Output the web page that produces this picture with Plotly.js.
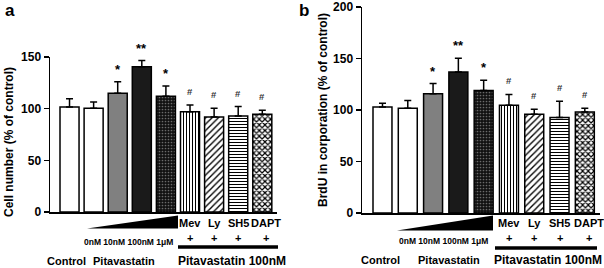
<!DOCTYPE html>
<html>
<head>
<meta charset="utf-8">
<script src="https://cdn.plot.ly/plotly-3.0.1.min.js"></script>
<style>html,body{margin:0;padding:0;background:#fff;}#chart{width:604px;height:268px;}</style>
</head>
<body>
<div id="chart"></div>
<script>
// ---- data ----
const categories = ['Control', 'Pitavastatin 0nM', 'Pitavastatin 10nM', 'Pitavastatin 100nM', 'Pitavastatin 1μM',
  'Pitavastatin 100nM + Mev', 'Pitavastatin 100nM + Ly', 'Pitavastatin 100nM + SH5', 'Pitavastatin 100nM + DAPT'];
const cellMean = [101.5, 100.5, 115, 140.5, 112, 97, 92, 93, 94.5];
const cellErr  = [8, 6, 11, 6, 10, 6.5, 8.5, 9, 4];
const brduMean = [103, 101.6, 115.7, 136.8, 119, 104.5, 95.9, 92.6, 98];
const brduErr  = [3.5, 7.7, 10, 13.5, 10, 10.6, 4.8, 16, 3.6];
const sigCell = ['', '', '*', '**', '*', '#', '#', '#', '#'];
const sigBrdu = ['', '', '*', '**', '*', '#', '#', '#', '#'];
const inhibitorLabels = ['Mev', 'Ly', 'SH5', 'DAPT'];
const doseLabels = ['0nM', '10nM', '100nM', '1μM'];
const groupLabels = ['Control', 'Pitavastatin', 'Pitavastatin 100nM'];
const yTicksA = [0, 50, 100, 150];
const yTicksB = [0, 50, 100, 150, 200];

// ---- styling ----
const W = 604, H = 268;
const px = x => x / W;
const py = y => 1 - y / H;
const FONT = 'Liberation Sans, Arial, sans-serif';
const patShapes = ['', '', '.', '.', '.', '|', '/', '-', 'x'];
const bgCols = ['#ffffff', '#ffffff', '#808080', '#1a1a1a', '#111111', '#ffffff', '#ffffff', '#ffffff', '#ffffff'];
const fgCols = ['#000000', '#000000', '#808080', '#1a1a1a', '#6a6a6a', '#000000', '#000000', '#000000', '#000000'];
const patSize = [6, 6, 4, 4, 3, 3, 4.5, 3, 4];
const patSolid = [0.3, 0.3, 0.5, 0.5, 0.25, 0.35, 0.3, 0.35, 0.5];

function barTrace(vals, errs, xa, ya, w) {
  return {
    type: 'bar', x: categories, y: vals, xaxis: xa, yaxis: ya, width: w,
    marker: {
      color: '#ffffff',
      line: {color: '#000', width: 1.5},
      pattern: {shape: patShapes, fgcolor: fgCols, bgcolor: bgCols, size: patSize, solidity: patSolid, fillmode: 'replace'}
    },
    error_y: {type: 'data', array: errs, arrayminus: errs.map(() => 0), symmetric: false,
              color: '#000', thickness: 1.5, width: 3.5},
    showlegend: false, hoverinfo: 'skip'
  };
}

const data = [barTrace(cellMean, cellErr, 'x', 'y', 0.79), barTrace(brduMean, brduErr, 'x2', 'y2', 0.75)];

const yCommon = {showline: true, linecolor: '#000', linewidth: 1.5, ticks: 'outside', ticklen: 5, tickwidth: 1.5,
  tickcolor: '#000', showgrid: false, zeroline: false, fixedrange: true,
  tickfont: {family: FONT, size: 12, color: '#000', weight: 'bold'}};
const xCommon = {showline: true, linecolor: '#000', linewidth: 1.5, ticks: '', showticklabels: false, showgrid: false,
  zeroline: false, type: 'category', fixedrange: true};

const annotations = [];
const shapes = [];
function txt(o) {
  annotations.push(Object.assign({showarrow: false, font: {family: FONT, size: 12, color: '#000', weight: 'bold'}}, o));
}

// panel letters
txt({text: 'a', xref: 'paper', yref: 'paper', x: px(3), y: py(10), xanchor: 'left', yanchor: 'middle', font: {family: FONT, size: 17, color: '#000', weight: 'bold'}});
txt({text: 'b', xref: 'paper', yref: 'paper', x: px(297), y: py(10), xanchor: 'left', yanchor: 'middle', font: {family: FONT, size: 17, color: '#000', weight: 'bold'}});
// y titles
txt({text: 'Cell number (% of control)', xref: 'paper', yref: 'paper', x: px(9), y: py(142), textangle: -90, xanchor: 'center', yanchor: 'middle'});
txt({text: 'BrdU in corporation (% of control)', xref: 'paper', yref: 'paper', x: px(323), y: py(110), textangle: -90, xanchor: 'center', yanchor: 'middle'});

// significance marks
function sig(marks, vals, errs, xa, ya) {
  marks.forEach((m, i) => {
    if (!m) return;
    const star = m.indexOf('*') >= 0;
    txt({text: m, xref: xa, yref: ya, x: categories[i], y: vals[i] + errs[i], xanchor: 'center', yanchor: 'bottom',
      yshift: star ? 3 : 6,
      font: {family: FONT, size: star ? 13 : 9.5, color: star ? '#000000' : '#333333', weight: 'bold'}});
  });
}
sig(sigCell, cellMean, cellErr, 'x', 'y');
sig(sigBrdu, brduMean, brduErr, 'x2', 'y2');

// under-axis decorations per panel
function decor(xa, p) {
  inhibitorLabels.forEach((lab, k) => {
    const i = 5 + k;
    txt({text: lab, xref: xa, yref: 'paper', x: categories[i], y: py(p.labY), xanchor: 'center', yanchor: 'middle',
      xshift: k === 3 ? 4 : 0, font: {family: FONT, size: 11, color: '#000', weight: 'bold'}});
    txt({text: '+', xref: xa, yref: 'paper', x: categories[i], y: py(p.plusY), xanchor: 'center', yanchor: 'middle',
      xshift: k === 3 ? 4 : 0, font: {family: FONT, size: 11, color: '#000', weight: 'bold'}});
  });
  txt({text: doseLabels.join(' '), xref: 'paper', yref: 'paper', x: px(p.doseX), y: py(p.doseY), xanchor: 'center', yanchor: 'middle',
    font: {family: FONT, size: 8.5, color: '#000', weight: 'bold'}});
  p.groupX.forEach((gx, g) => {
    txt({text: groupLabels[g], xref: 'paper', yref: 'paper', x: px(gx), y: py(p.groupY), xanchor: 'center', yanchor: 'middle',
      font: {family: FONT, size: g === 2 ? 12 : 11, color: '#000', weight: 'bold'}});
  });
  shapes.push({type: 'path', xref: 'paper', yref: 'paper', fillcolor: '#000', line: {width: 0},
    path: `M ${px(p.tri[0])} ${py(p.tri[2])} L ${px(p.tri[1])} ${py(p.tri[2])} L ${px(p.tri[1])} ${py(p.tri[3])} Z`});
  shapes.push({type: 'line', xref: 'paper', yref: 'paper', x0: px(p.bar[0]), x1: px(p.bar[1]), y0: py(p.bar[2]), y1: py(p.bar[2]),
    line: {color: '#000', width: 3.5}});
}
decor('x', {labY: 223, plusY: 238, doseX: 128, doseY: 242, groupX: [66, 124, 232], groupY: 261,
  tri: [87, 178, 228.5, 215.5], bar: [178, 278, 247]});
decor('x2', {labY: 223, plusY: 238, doseX: 443, doseY: 241, groupX: [380, 449, 548], groupY: 260,
  tri: [397, 493, 230.5, 215.5], bar: [495, 597, 248]});

const layout = {
  width: W, height: H, margin: {l: 0, r: 0, t: 0, b: 0}, paper_bgcolor: '#fff', plot_bgcolor: 'rgba(0,0,0,0)',
  showlegend: false, bargap: 0,
  xaxis: Object.assign({}, xCommon, {domain: [px(50), px(277)], range: [-0.81, 8.61], anchor: 'y'}),
  yaxis: Object.assign({}, yCommon, {domain: [py(212), py(57)], range: [0, 150], tickvals: yTicksA, anchor: 'x'}),
  xaxis2: Object.assign({}, xCommon, {domain: [px(362), px(600)], range: [-0.81, 8.6], anchor: 'y2'}),
  yaxis2: Object.assign({}, yCommon, {domain: [py(213), py(7)], range: [0, 200], tickvals: yTicksB, anchor: 'x2'}),
  annotations: annotations, shapes: shapes
};

Plotly.newPlot('chart', data, layout, {staticPlot: true, displayModeBar: false});
</script>
</body>
</html>
